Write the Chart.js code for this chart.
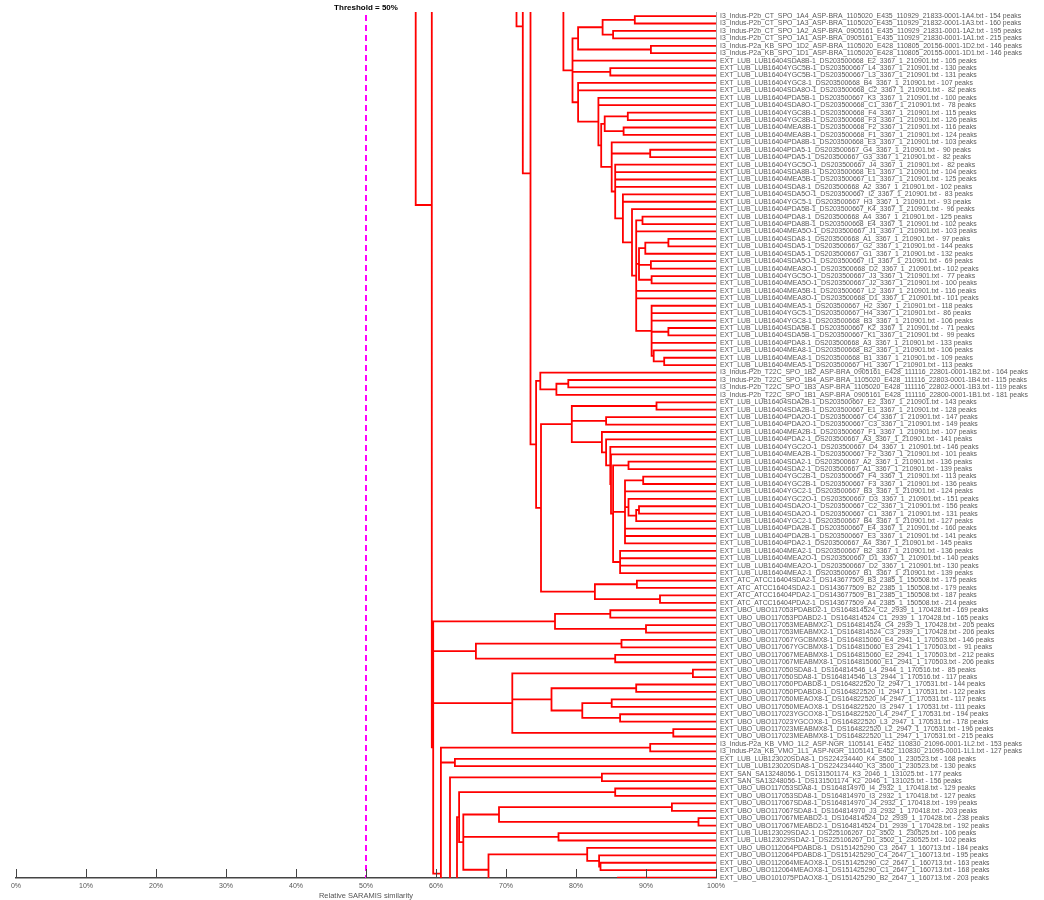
<!DOCTYPE html>
<html>
<head>
<meta charset="utf-8">
<script src="https://cdn.jsdelivr.net/npm/chart.js@4.4.1/dist/chart.umd.min.js"></script>
<style>
  html, body { margin: 0; padding: 0; background: #fff; }
  #contenedor { width: 1044px; height: 900px; }
</style>
</head>
<body>
<div id="contenedor"><canvas id="grafica"></canvas></div>
<script>
// Espectros (hojas del dendrograma), de arriba hacia abajo
const muestras = [
  "I3_Indus-P2b_CT_SPO_1A4_ASP-BRA_1105020_E435_110929_21833-0001-1A4",
  "I3_Indus-P2b_CT_SPO_1A3_ASP-BRA_1105020_E435_110929_21832-0001-1A3",
  "I3_Indus-P2b_CT_SPO_1A2_ASP-BRA_0905161_E435_110929_21831-0001-1A2",
  "I3_Indus-P2b_CT_SPO_1A1_ASP-BRA_0905161_E435_110929_21830-0001-1A1",
  "I3_Indus-P2a_KB_SPO_1D2_ASP-BRA_1105020_E428_110805_20156-0001-1D2",
  "I3_Indus-P2a_KB_SPO_1D1_ASP-BRA_1105020_E428_110805_20155-0001-1D1",
  "EXT_LUB_LUB16404SDA8B-1_DS203500668_E2_3367_1_210901",
  "EXT_LUB_LUB16404YGC5B-1_DS203500667_L4_3367_1_210901",
  "EXT_LUB_LUB16404YGC5B-1_DS203500667_L3_3367_1_210901",
  "EXT_LUB_LUB16404YGC8-1_DS203500668_B4_3367_1_210901",
  "EXT_LUB_LUB16404SDA8O-1_DS203500668_C2_3367_1_210901",
  "EXT_LUB_LUB16404PDA5B-1_DS203500667_K3_3367_1_210901",
  "EXT_LUB_LUB16404SDA8O-1_DS203500668_C1_3367_1_210901",
  "EXT_LUB_LUB16404YGC8B-1_DS203500668_F4_3367_1_210901",
  "EXT_LUB_LUB16404YGC8B-1_DS203500668_F3_3367_1_210901",
  "EXT_LUB_LUB16404MEA8B-1_DS203500668_F2_3367_1_210901",
  "EXT_LUB_LUB16404MEA8B-1_DS203500668_F1_3367_1_210901",
  "EXT_LUB_LUB16404PDA8B-1_DS203500668_E3_3367_1_210901",
  "EXT_LUB_LUB16404PDA5-1_DS203500667_G4_3367_1_210901",
  "EXT_LUB_LUB16404PDA5-1_DS203500667_G3_3367_1_210901",
  "EXT_LUB_LUB16404YGC5O-1_DS203500667_J4_3367_1_210901",
  "EXT_LUB_LUB16404SDA8B-1_DS203500668_E1_3367_1_210901",
  "EXT_LUB_LUB16404MEA5B-1_DS203500667_L1_3367_1_210901",
  "EXT_LUB_LUB16404SDA8-1_DS203500668_A2_3367_1_210901",
  "EXT_LUB_LUB16404SDA5O-1_DS203500667_I2_3367_1_210901",
  "EXT_LUB_LUB16404YGC5-1_DS203500667_H3_3367_1_210901",
  "EXT_LUB_LUB16404PDA5B-1_DS203500667_K4_3367_1_210901",
  "EXT_LUB_LUB16404PDA8-1_DS203500668_A4_3367_1_210901",
  "EXT_LUB_LUB16404PDA8B-1_DS203500668_E4_3367_1_210901",
  "EXT_LUB_LUB16404MEA5O-1_DS203500667_J1_3367_1_210901",
  "EXT_LUB_LUB16404SDA8-1_DS203500668_A1_3367_1_210901",
  "EXT_LUB_LUB16404SDA5-1_DS203500667_G2_3367_1_210901",
  "EXT_LUB_LUB16404SDA5-1_DS203500667_G1_3367_1_210901",
  "EXT_LUB_LUB16404SDA5O-1_DS203500667_I1_3367_1_210901",
  "EXT_LUB_LUB16404MEA8O-1_DS203500668_D2_3367_1_210901",
  "EXT_LUB_LUB16404YGC5O-1_DS203500667_J3_3367_1_210901",
  "EXT_LUB_LUB16404MEA5O-1_DS203500667_J2_3367_1_210901",
  "EXT_LUB_LUB16404MEA5B-1_DS203500667_L2_3367_1_210901",
  "EXT_LUB_LUB16404MEA8O-1_DS203500668_D1_3367_1_210901",
  "EXT_LUB_LUB16404MEA5-1_DS203500667_H2_3367_1_210901",
  "EXT_LUB_LUB16404YGC5-1_DS203500667_H4_3367_1_210901",
  "EXT_LUB_LUB16404YGC8-1_DS203500668_B3_3367_1_210901",
  "EXT_LUB_LUB16404SDA5B-1_DS203500667_K2_3367_1_210901",
  "EXT_LUB_LUB16404SDA5B-1_DS203500667_K1_3367_1_210901",
  "EXT_LUB_LUB16404PDA8-1_DS203500668_A3_3367_1_210901",
  "EXT_LUB_LUB16404MEA8-1_DS203500668_B2_3367_1_210901",
  "EXT_LUB_LUB16404MEA8-1_DS203500668_B1_3367_1_210901",
  "EXT_LUB_LUB16404MEA5-1_DS203500667_H1_3367_1_210901",
  "I3_Indus-P2b_T22C_SPO_1B2_ASP-BRA_0905161_E428_111116_22801-0001-1B2",
  "I3_Indus-P2b_T22C_SPO_1B4_ASP-BRA_1105020_E428_111116_22803-0001-1B4",
  "I3_Indus-P2b_T22C_SPO_1B3_ASP-BRA_1105020_E428_111116_22802-0001-1B3",
  "I3_Indus-P2b_T22C_SPO_1B1_ASP-BRA_0905161_E428_111116_22800-0001-1B1",
  "EXT_LUB_LUB16404SDA2B-1_DS203500667_E2_3367_1_210901",
  "EXT_LUB_LUB16404SDA2B-1_DS203500667_E1_3367_1_210901",
  "EXT_LUB_LUB16404PDA2O-1_DS203500667_C4_3367_1_210901",
  "EXT_LUB_LUB16404PDA2O-1_DS203500667_C3_3367_1_210901",
  "EXT_LUB_LUB16404MEA2B-1_DS203500667_F1_3367_1_210901",
  "EXT_LUB_LUB16404PDA2-1_DS203500667_A3_3367_1_210901",
  "EXT_LUB_LUB16404YGC2O-1_DS203500667_D4_3367_1_210901",
  "EXT_LUB_LUB16404MEA2B-1_DS203500667_F2_3367_1_210901",
  "EXT_LUB_LUB16404SDA2-1_DS203500667_A2_3367_1_210901",
  "EXT_LUB_LUB16404SDA2-1_DS203500667_A1_3367_1_210901",
  "EXT_LUB_LUB16404YGC2B-1_DS203500667_F4_3367_1_210901",
  "EXT_LUB_LUB16404YGC2B-1_DS203500667_F3_3367_1_210901",
  "EXT_LUB_LUB16404YGC2-1_DS203500667_B3_3367_1_210901",
  "EXT_LUB_LUB16404YGC2O-1_DS203500667_D3_3367_1_210901",
  "EXT_LUB_LUB16404SDA2O-1_DS203500667_C2_3367_1_210901",
  "EXT_LUB_LUB16404SDA2O-1_DS203500667_C1_3367_1_210901",
  "EXT_LUB_LUB16404YGC2-1_DS203500667_B4_3367_1_210901",
  "EXT_LUB_LUB16404PDA2B-1_DS203500667_E4_3367_1_210901",
  "EXT_LUB_LUB16404PDA2B-1_DS203500667_E3_3367_1_210901",
  "EXT_LUB_LUB16404PDA2-1_DS203500667_A4_3367_1_210901",
  "EXT_LUB_LUB16404MEA2-1_DS203500667_B2_3367_1_210901",
  "EXT_LUB_LUB16404MEA2O-1_DS203500667_D1_3367_1_210901",
  "EXT_LUB_LUB16404MEA2O-1_DS203500667_D2_3367_1_210901",
  "EXT_LUB_LUB16404MEA2-1_DS203500667_B1_3367_1_210901",
  "EXT_ATC_ATCC16404SDA2-1_DS143677509_B3_2385_1_150508",
  "EXT_ATC_ATCC16404SDA2-1_DS143677509_B2_2385_1_150508",
  "EXT_ATC_ATCC16404PDA2-1_DS143677509_B1_2385_1_150508",
  "EXT_ATC_ATCC16404PDA2-1_DS143677509_A4_2385_1_150508",
  "EXT_UBO_UBO117053PDABD2-1_DS164814524_C2_2939_1_170428",
  "EXT_UBO_UBO117053PDABD2-1_DS164814524_C1_2939_1_170428",
  "EXT_UBO_UBO117053MEABMX2-1_DS164814524_C4_2939_1_170428",
  "EXT_UBO_UBO117053MEABMX2-1_DS164814524_C3_2939_1_170428",
  "EXT_UBO_UBO117067YGCBMX8-1_DS164815060_E4_2941_1_170503",
  "EXT_UBO_UBO117067YGCBMX8-1_DS164815060_E3_2941_1_170503",
  "EXT_UBO_UBO117067MEABMX8-1_DS164815060_E2_2941_1_170503",
  "EXT_UBO_UBO117067MEABMX8-1_DS164815060_E1_2941_1_170503",
  "EXT_UBO_UBO117050SDA8-1_DS164814546_L4_2944_1_170516",
  "EXT_UBO_UBO117050SDA8-1_DS164814546_L3_2944_1_170516",
  "EXT_UBO_UBO117050PDABD8-1_DS164822520_I2_2947_1_170531",
  "EXT_UBO_UBO117050PDABD8-1_DS164822520_I1_2947_1_170531",
  "EXT_UBO_UBO117050MEAOX8-1_DS164822520_I4_2947_1_170531",
  "EXT_UBO_UBO117050MEAOX8-1_DS164822520_I3_2947_1_170531",
  "EXT_UBO_UBO117023YGCOX8-1_DS164822520_L4_2947_1_170531",
  "EXT_UBO_UBO117023YGCOX8-1_DS164822520_L3_2947_1_170531",
  "EXT_UBO_UBO117023MEABMX8-1_DS164822520_L2_2947_1_170531",
  "EXT_UBO_UBO117023MEABMX8-1_DS164822520_L1_2947_1_170531",
  "I3_Indus-P2a_KB_VMO_1L2_ASP-NGR_1105141_E452_110830_21096-0001-1L2",
  "I3_Indus-P2a_KB_VMO_1L1_ASP-NGR_1105141_E452_110830_21095-0001-1L1",
  "EXT_LUB_LUB123020SDA8-1_DS224234440_K4_3500_1_230523",
  "EXT_LUB_LUB123020SDA8-1_DS224234440_K3_3500_1_230523",
  "EXT_SAN_SA13248056-1_DS131501174_K3_2046_1_131025",
  "EXT_SAN_SA13248056-1_DS131501174_K2_2046_1_131025",
  "EXT_UBO_UBO117053SDA8-1_DS164814970_I4_2932_1_170418",
  "EXT_UBO_UBO117053SDA8-1_DS164814970_I3_2932_1_170418",
  "EXT_UBO_UBO117067SDA8-1_DS164814970_J4_2932_1_170418",
  "EXT_UBO_UBO117067SDA8-1_DS164814970_J3_2932_1_170418",
  "EXT_UBO_UBO117067MEABD2-1_DS164814524_D2_2939_1_170428",
  "EXT_UBO_UBO117067MEABD2-1_DS164814524_D1_2939_1_170428",
  "EXT_LUB_LUB123029SDA2-1_DS225106267_D2_3502_1_230525",
  "EXT_LUB_LUB123029SDA2-1_DS225106267_D1_3502_1_230525",
  "EXT_UBO_UBO112064PDABD8-1_DS151425290_C3_2647_1_160713",
  "EXT_UBO_UBO112064PDABD8-1_DS151425290_C4_2647_1_160713",
  "EXT_UBO_UBO112064MEAOX8-1_DS151425290_C2_2647_1_160713",
  "EXT_UBO_UBO112064MEAOX8-1_DS151425290_C1_2647_1_160713",
  "EXT_UBO_UBO101075PDAOX8-1_DS151425290_B2_2647_1_160713"
];

// Número de picos de cada espectro (mismo orden)
const picos = [
  154, 160, 195, 215, 146, 146, 105, 130, 131, 107, 82, 100, 78, 115, 126, 116, 124, 103, 90, 82,
  82, 104, 125, 102, 83, 93, 96, 125, 102, 103, 97, 144, 132, 69, 102, 77, 100, 116, 101, 118,
  86, 106, 71, 99, 133, 106, 109, 113, 164, 115, 119, 181, 143, 128, 147, 149, 107, 141, 146, 101,
  136, 139, 113, 136, 124, 151, 156, 131, 127, 160, 141, 145, 136, 140, 130, 139, 175, 179, 187, 214,
  169, 165, 205, 206, 146, 91, 212, 206, 85, 117, 144, 122, 117, 111, 194, 178, 196, 215, 153, 127,
  168, 130, 177, 156, 129, 127, 199, 203, 238, 192, 106, 102, 184, 195, 163, 168, 203
];

// Uniones del dendrograma: [nombre, similitud %, hijos...]
// Un hijo numérico es una hoja; los índices fuera de 0..116 son ramas que quedan fuera de la ventana visible.
const uniones = [
  ["a1", 88.4, 0, 1],
  ["a2", 85.3, 2, 3],
  ["a3", 83.8, "a1", "a2"],
  ["a4", 90.7, 4, 5],
  ["a5", 80.3, "a3", "a4"],
  ["a6", 84.9, 7, 8],
  ["b13", 87.4, 13, 14],
  ["b15", 86.8, 15, 16],
  ["b14", 84.1, "b13", "b15"],
  ["b18", 90.6, 18, 19],
  ["c30", 93.2, 30, 31],
  ["c32", 89.9, "c30", 32],
  ["c33", 90.7, 33, 34],
  ["c35", 90.8, 35, 36],
  ["c31", 89.0, "c32", "c33", "c35"],
  ["c42", 93.2, 42, 43],
  ["c46", 92.6, 46, 47],
  ["c45", 91.1, 45, "c46"],
  ["c39", 90.8, 39, 40, 41, "c42", 44, "c45"],
  ["c27", 89.5, 27, 28],
  ["c28", 88.6, "c27", 29, "c31", 37, 38, "c39"],
  ["c26", 88.0, 26, "c28"],
  ["c24", 86.7, 24, 25, "c26"],
  ["b20", 85.6, 20, 21, 22, 23, "c24"],
  ["b17", 85.1, 17, "b18", "b20"],
  ["b16", 83.6, "b14", "b17"],
  ["b11", 83.2, 11, 12, "b16"],
  ["b9", 80.3, 9, 10, "b11"],
  ["a7", 79.5, "a5", 6, "a6", "b9"],
  ["u1", 78.2, -40, "a7"],
  ["d49", 78.9, 49, 50],
  ["d51", 77.2, "d49", 51],
  ["d48", 74.9, 48, "d51"],
  ["e52", 91.5, 52, 53],
  ["e54", 84.3, 54, 55],
  ["e60", 87.5, 60, 61],
  ["e62", 89.6, 62, 63],
  ["e66", 89.0, 66, 67],
  ["e67", 88.6, "e66", 68],
  ["e65", 87.5, 65, "e67"],
  ["e64", 87.0, "e62", 64, "e65", 69, 70, 71],
  ["e72", 86.3, 72, 73, 74, 75],
  ["e61", 85.3, "e60", "e64", "e72"],
  ["e59", 85.0, 59, "e61"],
  ["e58", 84.9, 58, "e59"],
  ["e57", 84.3, 57, "e58"],
  ["e56", 83.7, 56, "e57"],
  ["e53", 79.4, "e52", "e54", "e56"],
  ["f76", 88.7, 76, 77],
  ["f78", 92.0, 78, 79],
  ["f77", 82.7, "f76", "f78"],
  ["e50", 75.0, "e53", "f77"],
  ["e49", 74.3, "d48", "e50"],
  ["g1", 73.5, -15.3, "e49"],
  ["g2", 72.4, -18.4, "g1"],
  ["g3", 71.5, -40, "g2"],
  ["h80", 84.9, 80, 81],
  ["h82", 90.0, 82, 83],
  ["h81", 77.0, "h80", "h82"],
  ["h84", 86.5, 84, 85],
  ["h86", 85.6, 86, 87],
  ["h85", 65.7, "h84", "h86"],
  ["h88", 96.7, 88, 89],
  ["h90", 88.6, 90, 91],
  ["h92", 85.1, 92, 93],
  ["h94", 86.3, 94, 95],
  ["h93", 80.9, "h92", "h94"],
  ["h91", 76.5, "h90", "h93"],
  ["h96", 93.9, 96, 97],
  ["h89", 70.9, "h88", "h91", "h96"],
  ["k98", 90.6, 98, 99],
  ["k100", 62.7, 100, 101],
  ["k99", 60.7, "k98", "k100", 132.4],
  ["h79", 59.6, "h81", "h85", "h89", "k99"],
  ["h78", 59.4, -47.6, "h79"],
  ["h77", 57.1, -60, "h78"],
  ["m102", 83.7, 102, 103],
  ["m103", 62.0, "m102", 150],
  ["m104", 85.6, 104, 105],
  ["m106", 93.7, 106, 107],
  ["m108", 97.5, 108, 109],
  ["m107", 69.0, "m106", "m108"],
  ["m110", 77.5, 110, 111],
  ["m114", 83.5, 114, 115],
  ["m113", 83.3, 113, "m114"],
  ["m112", 81.6, 112, "m113"],
  ["m116", 86.0, 116, 118],
  ["m111", 67.5, "m112", "m116"],
  ["m109", 63.9, "m107", "m110", "m111"],
  ["m105", 63.3, "m104", "m109"],
  ["m101", 63.0, "m105", 150]
];

const umbral = 50;
const ticksX = [0, 10, 20, 30, 40, 50, 60, 70, 80, 90, 100];

// Etiquetas del eje derecho
const etiquetas = muestras.map((m, i) => {
  const p = picos[i] < 100 ? " " + picos[i] : String(picos[i]);
  return m + ".txt - " + p + " peaks";
});

// Construir los segmentos en codo (hoja en x = 100 %)
const nodos = {};
const segmentos = [];
const posicion = ref => typeof ref === "number" ? { x: 100, y: ref } : nodos[ref];
uniones.forEach(([nombre, similitud, ...hijos]) => {
  const pos = hijos.map(posicion);
  pos.forEach(p => {
    segmentos.push({ x: p.x, y: p.y }, { x: similitud, y: p.y }, { x: null, y: null });
  });
  const ys = pos.map(p => p.y);
  const y0 = Math.min(...ys), y1 = Math.max(...ys);
  segmentos.push({ x: similitud, y: y0 }, { x: similitud, y: y1 }, { x: null, y: null });
  nodos[nombre] = { x: similitud, y: (y0 + y1) / 2 };
});

// Línea de umbral, rótulo y marcas del eje X hacia arriba
const extras = {
  id: "extras",
  afterDatasetsDraw(chart) {
    const { ctx, chartArea, scales } = chart;
    const x = scales.x.getPixelForValue(umbral);
    ctx.save();
    ctx.strokeStyle = "#ff00ff";
    ctx.lineWidth = 2;
    ctx.setLineDash([6, 4]);
    ctx.beginPath();
    ctx.moveTo(x, chartArea.top + 3);
    ctx.lineTo(x, chartArea.bottom);
    ctx.stroke();
    ctx.setLineDash([]);
    ctx.fillStyle = "#000";
    ctx.font = "bold 8px 'Liberation Sans', Arial, sans-serif";
    ctx.textAlign = "center";
    ctx.textBaseline = "middle";
    ctx.fillText("Threshold = " + umbral + "%", x, 8);
    ctx.strokeStyle = "#444";
    ctx.lineWidth = 1;
    ticksX.forEach(v => {
      const tx = Math.round(scales.x.getPixelForValue(v)) + 0.5;
      ctx.beginPath();
      ctx.moveTo(tx, chartArea.bottom - 9);
      ctx.lineTo(tx, chartArea.bottom);
      ctx.stroke();
    });
    ctx.restore();
  }
};

new Chart(document.querySelector("#grafica"), {
  type: "scatter",
  data: {
    datasets: [{
      data: segmentos,
      showLine: true,
      spanGaps: false,
      borderColor: "#ff0000",
      borderWidth: 1.8,
      borderCapStyle: "square",
      borderJoinStyle: "miter",
      pointRadius: 0,
      pointHoverRadius: 0
    }]
  },
  options: {
    responsive: true,
    maintainAspectRatio: false,
    devicePixelRatio: 1,
    animation: false,
    events: [],
    layout: { padding: { left: 16, top: 12, right: 0, bottom: 0 } },
    plugins: { legend: { display: false }, tooltip: { enabled: false } },
    scales: {
      x: {
        type: "linear",
        min: 0,
        max: 100,
        afterBuildTicks: s => { s.ticks = ticksX.map(v => ({ value: v })); },
        afterFit: s => { s.height = 22; },
        grid: { display: false, drawTicks: false },
        border: { display: true, color: "#444", width: 1.5 },
        ticks: {
          padding: 4,
          color: "#555",
          font: { family: "'Liberation Sans', Arial, sans-serif", size: 7 },
          callback: v => v + "%"
        },
        title: {
          display: true,
          text: "Relative SARAMIS similarity",
          color: "#555",
          padding: { top: 0, bottom: 0 },
          font: { family: "'Liberation Sans', Arial, sans-serif", size: 7.5 }
        }
      },
      y: {
        type: "linear",
        position: "right",
        reverse: true,
        min: -0.55,
        max: 116.05,
        afterBuildTicks: s => { s.ticks = muestras.map((m, i) => ({ value: i })); },
        afterFit: s => { s.width = 328; },
        grid: { display: false, drawTicks: false },
        border: { display: true, color: "#aaa", width: 1 },
        ticks: {
          autoSkip: false,
          padding: 4,
          color: "#5a5a5a",
          font: { family: "'Liberation Sans', Arial, sans-serif", size: 6.9 },
          callback: v => etiquetas[v] || ""
        }
      }
    }
  },
  plugins: [extras]
});
</script>
</body>
</html>
